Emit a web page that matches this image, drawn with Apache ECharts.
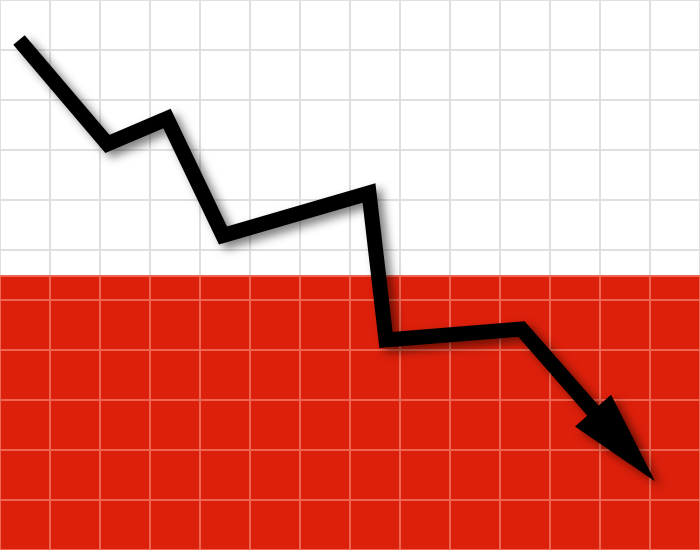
<!DOCTYPE html>
<html>
<head>
<meta charset="utf-8">
<title>Downtrend</title>
<script src="https://cdn.jsdelivr.net/npm/echarts/dist/echarts.min.js"></script>
<style>
  html, body { margin: 0; padding: 0; background: #fff; }
  #main { width: 700px; height: 550px; }
</style>
</head>
<body>
<div id="main"></div>
<script>
// grid size in cells
var xCells = 14;
var yCells = 11;
// where the white half ends and the red half starts (in cells from the bottom)
var flagSplit = 5.47;

// the zigzag (cells)
var trendX = [0.38, 2.15, 3.34, 4.46, 7.38, 7.72, 10.43, 12.48];
var trendY = [10.20, 8.12, 8.63, 6.29, 7.14, 4.20, 4.42, 2.08];

var myChart = echarts.init(document.getElementById('main'));

var lastIdx = trendX.length - 1;
var trendData = trendX.map(function (x, i) {
    if (i !== lastIdx) return [x, trendY[i]];
    // arrow head sits on the last point
    return {
        value: [x, trendY[i]],
        symbol: 'triangle',
        symbolSize: [48, 94],
        symbolRotate: 0
    };
});

var shadow = {
    shadowColor: 'rgba(0, 0, 0, 0.5)',
    shadowBlur: 10,
    shadowOffsetX: 6,
    shadowOffsetY: 5
};

function hiddenAxis(extra) {
    var a = {
        type: 'value',
        interval: 1,
        axisLine: { show: false },
        axisTick: { show: false },
        axisLabel: { show: false }
    };
    for (var k in extra) a[k] = extra[k];
    return a;
}

var option = {
    backgroundColor: '#ffffff',
    animation: false,
    grid: [
        // whole picture
        { left: -1, top: -2, width: 703.5, height: 553 },
        // red half only, its own lighter lines
        { left: -1, top: 276, width: 703.5, bottom: -1 }
    ],
    xAxis: [
        hiddenAxis({ gridIndex: 0, min: 0, max: xCells, z: 1,
            splitLine: { lineStyle: { color: '#e0e0e0', width: 2 } } }),
        hiddenAxis({ gridIndex: 1, min: 0, max: xCells, z: 3,
            splitLine: { lineStyle: { color: '#ee6552', width: 2 } } })
    ],
    yAxis: [
        hiddenAxis({ gridIndex: 0, min: 0, max: yCells, z: 1,
            splitLine: { lineStyle: { color: '#e0e0e0', width: 2 } } }),
        hiddenAxis({ gridIndex: 1, min: 0, max: flagSplit, z: 3,
            splitLine: { lineStyle: { color: '#ee6552', width: 2 } } })
    ],
    series: [{
        name: 'flag',
        type: 'line',
        xAxisIndex: 0,
        yAxisIndex: 0,
        z: 2,
        silent: true,
        symbol: 'none',
        data: [[0, flagSplit], [xCells, flagSplit]],
        lineStyle: { width: 0 },
        areaStyle: { color: '#dd200b', opacity: 1, origin: 'start' }
    }, {
        name: 'trend',
        type: 'line',
        xAxisIndex: 0,
        yAxisIndex: 0,
        z: 5,
        silent: true,
        symbol: 'none',
        showSymbol: true,
        data: trendData,
        lineStyle: {
            color: '#000000',
            width: 15,
            cap: 'butt',
            join: 'miter',
            miterLimit: 10,
            shadowColor: shadow.shadowColor,
            shadowBlur: shadow.shadowBlur,
            shadowOffsetX: shadow.shadowOffsetX,
            shadowOffsetY: shadow.shadowOffsetY
        },
        itemStyle: {
            color: '#000000',
            borderWidth: 0,
            shadowColor: shadow.shadowColor,
            shadowBlur: shadow.shadowBlur,
            shadowOffsetX: shadow.shadowOffsetX,
            shadowOffsetY: shadow.shadowOffsetY
        }
    }]
};
myChart.setOption(option);

// turn the arrow head along the last segment
var p0 = myChart.convertToPixel({ gridIndex: 0 }, [trendX[lastIdx - 1], trendY[lastIdx - 1]]);
var p1 = myChart.convertToPixel({ gridIndex: 0 }, [trendX[lastIdx], trendY[lastIdx]]);
var ang = Math.atan2(-(p1[1] - p0[1]), p1[0] - p0[0]) * 180 / Math.PI - 90;
trendData[lastIdx].symbolRotate = ang;
myChart.setOption({ series: [{}, { data: trendData }] });
</script>
</body>
</html>
